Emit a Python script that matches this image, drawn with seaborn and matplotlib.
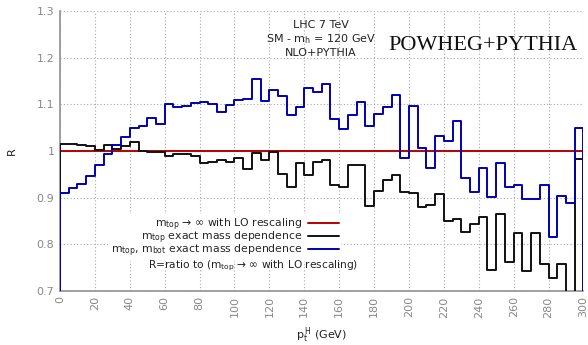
import numpy as np
import pandas as pd
import matplotlib
matplotlib.use("Agg")
import matplotlib.pyplot as plt
import seaborn as sns

# ---- data (bins of 5 GeV from 0 to 300) ----
bin_edges = list(range(0, 305, 5))
lo_rescaling = [1.0] * 60
mtop_exact = [1.016, 1.016, 1.012, 1.011, 1.003, 1.014, 1.005, 1.011, 1.020, 0.999,
              0.998, 0.997, 0.990, 0.994, 0.993, 0.989, 0.975, 0.976, 0.981, 0.976,
              0.985, 0.961, 0.996, 0.981, 0.997, 0.951, 0.923, 0.975, 0.948, 0.976,
              0.981, 0.927, 0.922, 0.969, 0.971, 0.882, 0.914, 0.938, 0.948, 0.912,
              0.909, 0.880, 0.885, 0.907, 0.850, 0.855, 0.827, 0.844, 0.859, 0.744,
              0.864, 0.762, 0.823, 0.743, 0.823, 0.757, 0.727, 0.757, 0.680, 0.983]
mtop_mbot_exact = [0.910, 0.921, 0.929, 0.946, 0.969, 0.994, 1.014, 1.031, 1.050, 1.054,
                   1.072, 1.059, 1.100, 1.095, 1.097, 1.104, 1.105, 1.100, 1.084, 1.099,
                   1.109, 1.112, 1.155, 1.108, 1.130, 1.119, 1.077, 1.095, 1.135, 1.127,
                   1.144, 1.069, 1.047, 1.078, 1.106, 1.054, 1.080, 1.095, 1.120, 0.984,
                   1.097, 1.007, 0.964, 1.033, 1.022, 1.065, 0.943, 0.911, 0.964, 0.902,
                   0.974, 0.923, 0.926, 0.896, 0.897, 0.926, 0.815, 0.904, 0.888, 1.050]
x_ticks = list(range(0, 320, 20))
y_ticks = [0.7, 0.8, 0.9, 1.0, 1.1, 1.2, 1.3]
y_tick_labels = ["0.7", "0.8", "0.9", "1", "1.1", "1.2", "1.3"]

labels = [r"$\mathregular{m_{top}}$ → ∞ with LO rescaling",
          r"$\mathregular{m_{top}}$ exact mass dependence",
          r"$\mathregular{m_{top}}$, $\mathregular{m_{bot}}$ exact mass dependence"]
colors = ["#b80000", "#111111", "#0000b0"]


def step_frame(edges, vals):
    xs = [edges[0]] + list(edges) + [edges[-1]]
    ys = [0.0] + list(vals) + [vals[-1], 0.0]
    return pd.DataFrame({"x": xs, "y": ys})


sns.set_theme(style="white")
plt.rcParams["font.family"] = ["DejaVu Sans"]

fig = plt.figure(figsize=(5.88, 3.45), dpi=100)
ax = fig.add_axes([0.102, 0.1574, 0.8903, 0.8097])

grid_kw = dict(color="#a8a8a8", lw=0.8, ls=(0, (1, 2)), zorder=0)
for xv in x_ticks:
    ax.axvline(xv, **grid_kw)
for yv in y_ticks:
    ax.axhline(yv, **grid_kw)

handles = []
for vals, col, lab in zip([lo_rescaling, mtop_exact, mtop_mbot_exact], colors, labels):
    df = step_frame(bin_edges, vals)
    sns.lineplot(data=df, x="x", y="y", ax=ax, color=col, lw=1.4,
                 drawstyle="steps-post", estimator=None, sort=False, zorder=3)
    handles.append(plt.Line2D([], [], color=col, lw=1.4))

ax.set_xlim(0, 300)
ax.set_ylim(0.7, 1.3)
ax.set_xticks(x_ticks)
ax.set_xticklabels([str(v) for v in x_ticks], rotation=90)
ax.set_yticks(y_ticks)
ax.set_yticklabels(y_tick_labels)
ax.tick_params(axis="both", direction="in", length=4, width=0.8, color="#909090",
               labelcolor="#888888", labelsize=8, pad=4)
for s in ["top", "right"]:
    ax.spines[s].set_visible(False)
for s in ["left", "bottom"]:
    ax.spines[s].set_color("#909090")
    ax.spines[s].set_linewidth(1.2)

ax.set_xlabel(r"$\mathregular{p_t^{\,H}}$ (GeV)", fontsize=8, color="#222222", labelpad=6)
ax.set_ylabel("R", fontsize=8, color="#222222", labelpad=14)

leg = ax.legend(handles, labels, loc="upper right", bbox_to_anchor=(0.537, 0.2745),
                markerfirst=False, frameon=True, fontsize=7.8, handlelength=2.9,
                handletextpad=0.5, labelspacing=-0.3, borderpad=0.2, borderaxespad=0)
leg.get_frame().set_facecolor("white")
leg.get_frame().set_edgecolor("none")
leg.get_frame().set_alpha(1)
leg.set_zorder(5)

ax.text(0.3696, 0.09, r"R=ratio to ($\mathregular{m_{top}}$ → ∞ with LO rescaling)",
        transform=ax.transAxes, ha="center", va="center", fontsize=7.7, color="#222222", zorder=6)

ax.text(0.4985, 0.901, "LHC 7 TeV\nSM - $\\mathregular{m_h}$ = 120 GeV\nNLO+PYTHIA",
        transform=ax.transAxes, ha="center", va="center", fontsize=8, color="#222222",
        linespacing=1.25, zorder=6)
ax.text(0.809, 0.879, "POWHEG+PYTHIA", transform=ax.transAxes, ha="center", va="center",
        fontsize=16, family="Liberation Serif", color="#111111", zorder=6)

fig.savefig("out.png", dpi=100)
